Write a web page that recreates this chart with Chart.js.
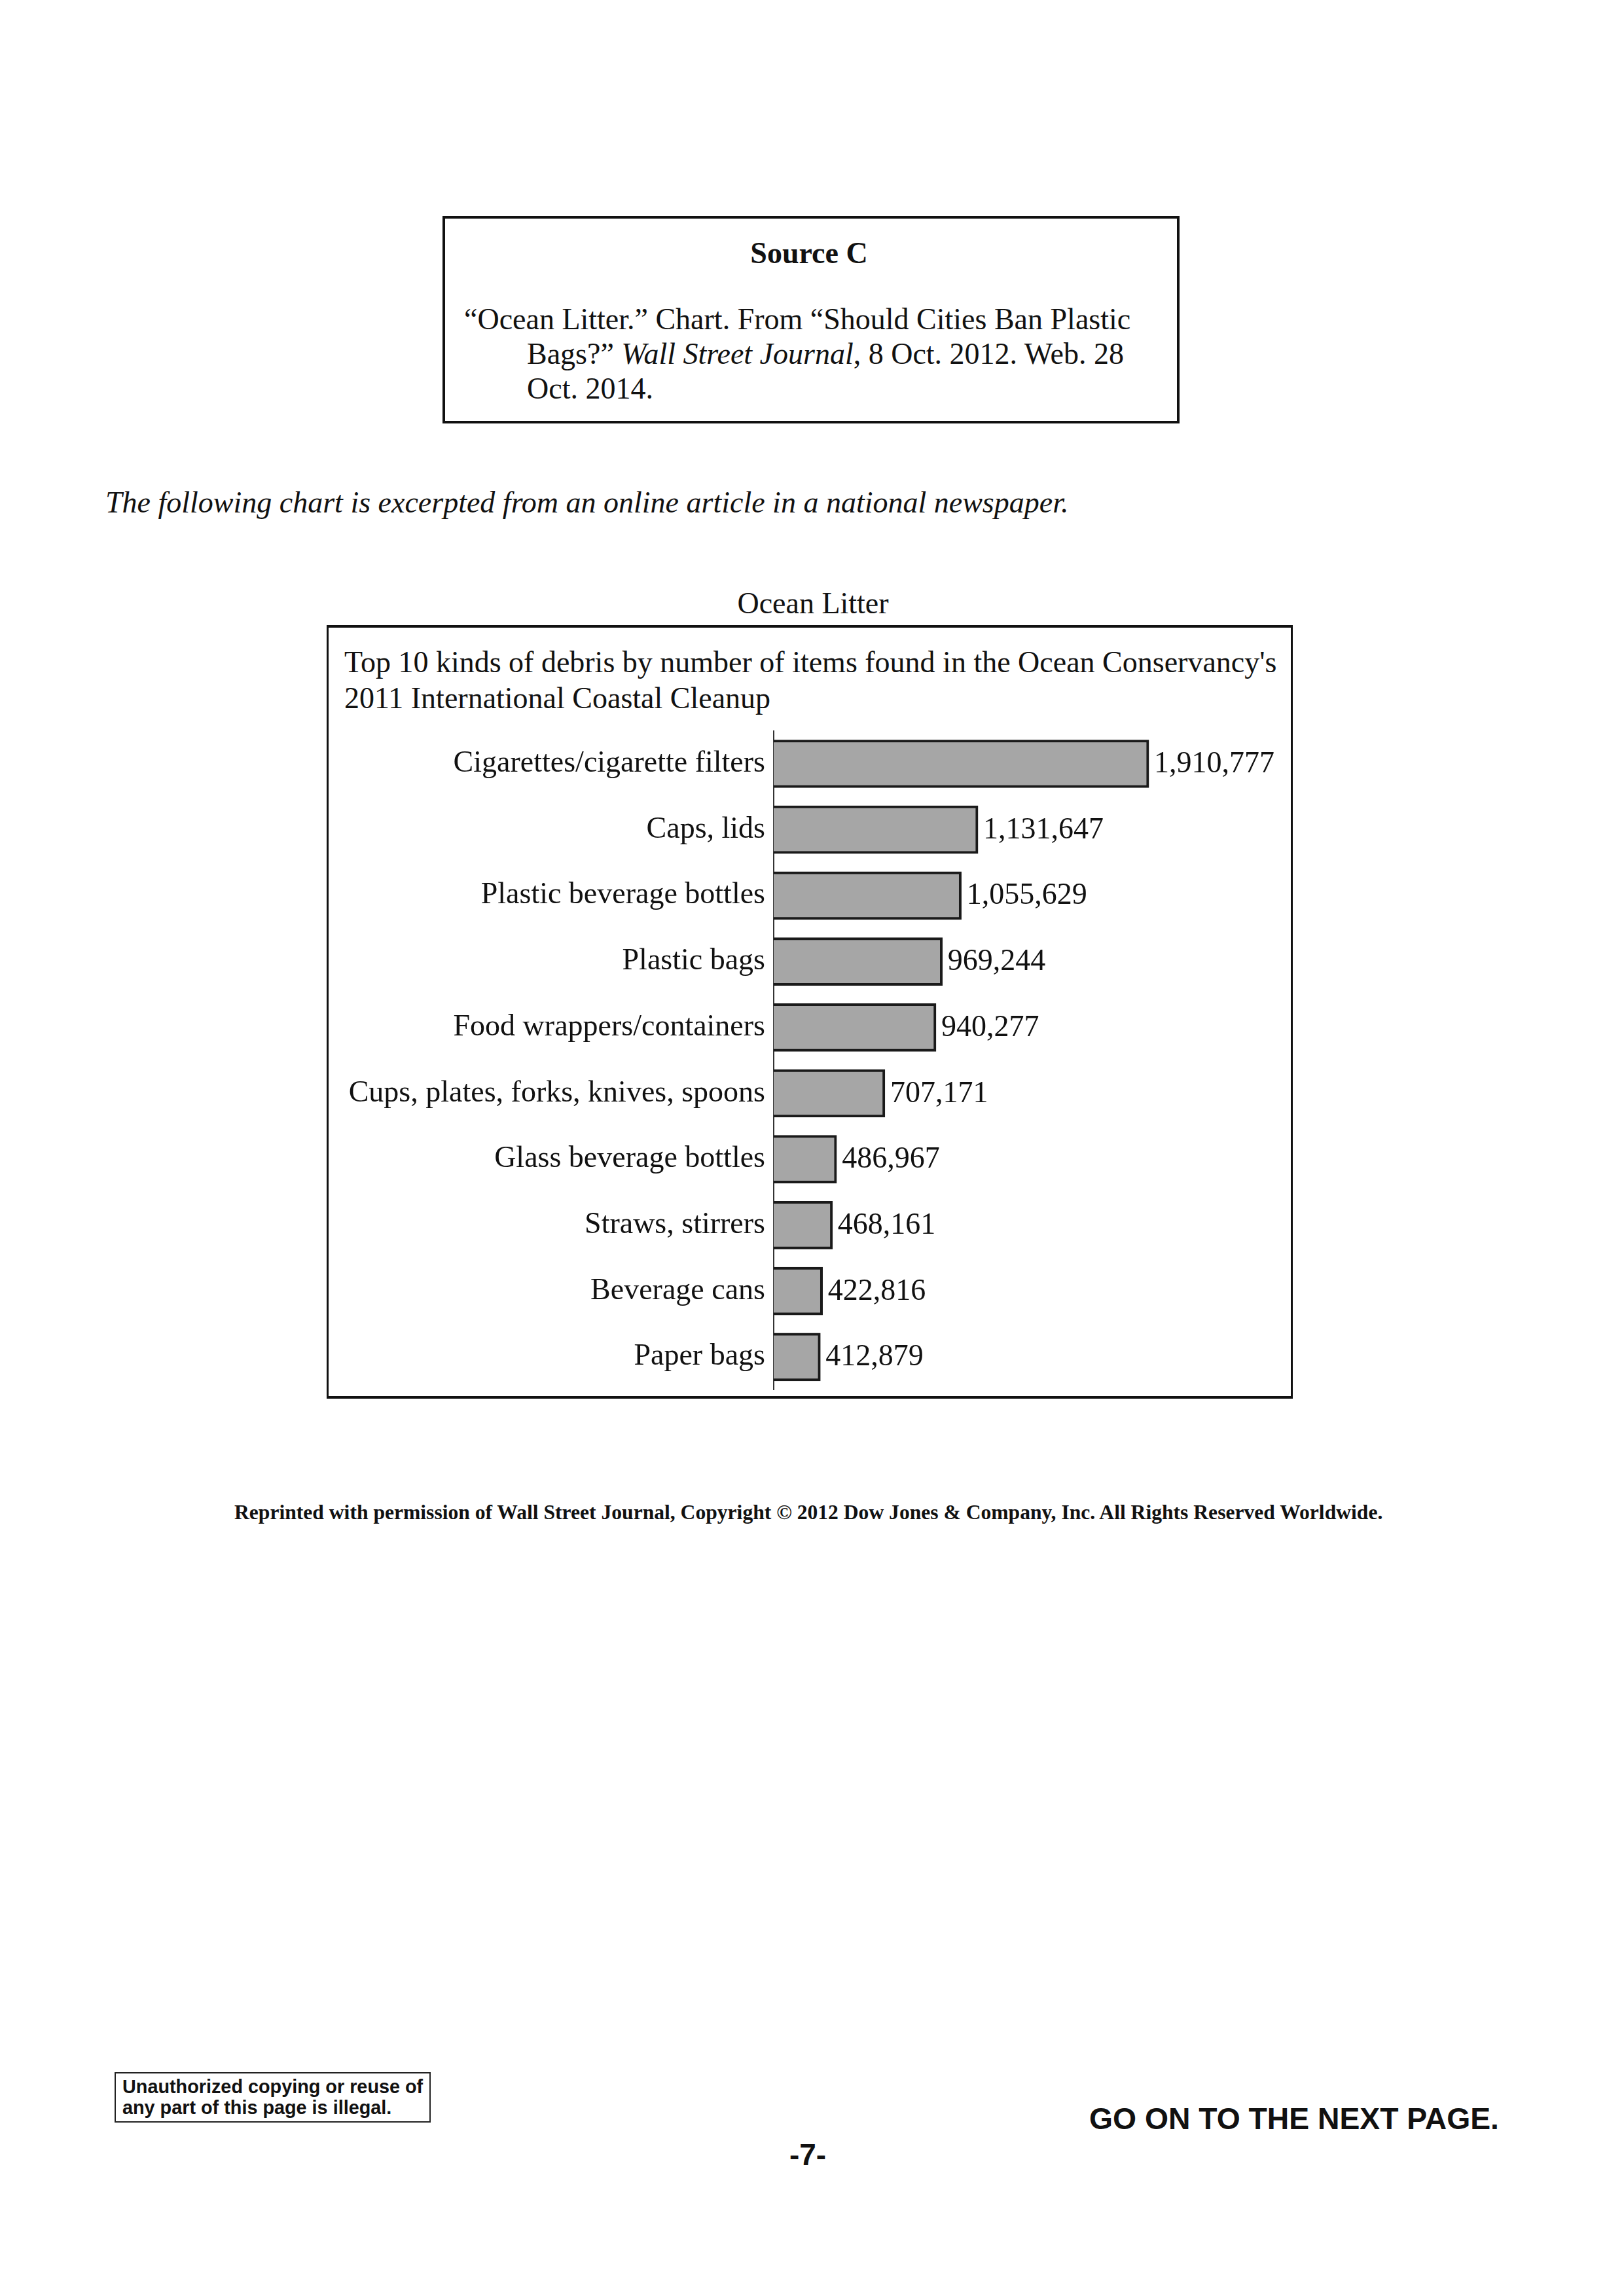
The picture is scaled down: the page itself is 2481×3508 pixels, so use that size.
<!DOCTYPE html>
<html>
<head>
<meta charset="utf-8">
<script src="https://cdn.jsdelivr.net/npm/chart.js@4.4.1/dist/chart.umd.min.js"></script>
<style>
  html, body { margin: 0; padding: 0; background: #fff; }
  body { width: 2481px; height: 3508px; position: relative; overflow: hidden; }
  .t { position: absolute; white-space: nowrap; color: #111; line-height: 1; }
  .serif { font-family: "Liberation Serif", "DejaVu Serif", serif; font-size: 46px; }
  .sans { font-family: "Liberation Sans", Arial, sans-serif; font-weight: bold; }
  .box { position: absolute; box-sizing: border-box; }
</style>
</head>
<body>
<!-- Source box -->
<div class="box" style="left:676px; top:330px; width:1126px; height:317px; border:4px solid #111;"></div>
<div class="t serif" style="left:1036px; width:400px; text-align:center; top:364px; font-weight:bold;">Source C</div>
<div class="t serif" style="left:709px; top:465px;">“Ocean Litter.” Chart. From “Should Cities Ban Plastic</div>
<div class="t serif" style="left:805px; top:518px;">Bags?” <i>Wall Street Journal</i>, 8 Oct. 2012. Web. 28</div>
<div class="t serif" style="left:805px; top:571px;">Oct. 2014.</div>

<div class="t serif" style="left:161px; top:745px; font-style:italic;">The following chart is excerpted from an online article in a national newspaper.</div>

<div class="t serif" style="left:1042px; width:400px; text-align:center; top:899px;">Ocean Litter</div>

<!-- Chart box -->
<div class="box" style="left:499px; top:955px; width:1476px; height:1182px; border:3px solid #111; border-top-width:4px; border-bottom-width:4px;"></div>
<div class="t serif" style="left:526px; top:989px;">Top 10 kinds of debris by number of items found in the Ocean Conservancy's</div>
<div class="t serif" style="left:526px; top:1044px;">2011 International Coastal Cleanup</div>
<canvas id="c" width="1470" height="1176" style="position:absolute; left:502px; top:958px;"></canvas>

<div class="t" style="left:358px; top:2295px; font-family:'Liberation Serif', serif; font-weight:bold; font-size:31.6px;">Reprinted with permission of Wall Street Journal, Copyright © 2012 Dow Jones &amp; Company, Inc. All Rights Reserved Worldwide.</div>

<!-- footer -->
<div class="box" style="left:175px; top:3166px; width:483px; height:77px; border:2px solid #222;"></div>
<div class="t sans" style="left:187px; top:3174px; font-size:28.8px;">Unauthorized copying or reuse of</div>
<div class="t sans" style="left:187px; top:3206px; font-size:28.8px;">any part of this page is illegal.</div>
<div class="t sans" style="left:1664px; top:3214px; font-size:46.3px;">GO ON TO THE NEXT PAGE.</div>
<div class="t sans" style="left:1134px; width:200px; text-align:center; top:3269px; font-size:46px;">-7-</div>

<script>
const categories = [
  "Cigarettes/cigarette filters",
  "Caps, lids",
  "Plastic beverage bottles",
  "Plastic bags",
  "Food wrappers/containers",
  "Cups, plates, forks, knives, spoons",
  "Glass beverage bottles",
  "Straws, stirrers",
  "Beverage cans",
  "Paper bags"
];
const itemCounts = [1910777, 1131647, 1055629, 969244, 940277, 707171, 486967, 468161, 422816, 412879];
const axisMin = 200000;
const axisMax = 2100000;

const serifFont = "Liberation Serif";

const valueLabels = {
  id: "valueLabels",
  afterDatasetsDraw(chart) {
    const ctx = chart.ctx;
    const meta = chart.getDatasetMeta(0);
    ctx.save();
    ctx.font = "46px '" + serifFont + "'";
    ctx.fillStyle = "#111";
    ctx.textAlign = "left";
    ctx.textBaseline = "middle";
    meta.data.forEach((bar, i) => {
      const v = chart.data.datasets[0].data[i];
      ctx.fillText(v.toLocaleString("en-US"), bar.x + 8, bar.y + 1);
    });
    ctx.restore();
  }
};

new Chart(document.getElementById("c"), {
  type: "bar",
  data: {
    labels: categories,
    datasets: [{
      data: itemCounts,
      backgroundColor: "#a6a6a6",
      borderColor: "#1a1a1a",
      borderWidth: 4,
      barThickness: 73,
      borderSkipped: false
    }]
  },
  options: {
    indexAxis: "y",
    responsive: false,
    animation: false,
    devicePixelRatio: 1,
    layout: { padding: { top: 158.65, bottom: 10.35, left: 0, right: 153.5 } },
    plugins: {
      legend: { display: false },
      tooltip: { enabled: false },
      title: { display: false }
    },
    scales: {
      x: { display: false, min: axisMin, max: axisMax },
      y: {
        afterFit: (s) => { s.width = 680; s.paddingTop = 0; s.paddingBottom = 0; },
        grid: { display: false, drawTicks: false, tickLength: 0 },
        border: { display: true, color: "#333", width: 2 },
        ticks: {
          padding: 13,
          autoSkip: false,
          color: "#111",
          font: { family: serifFont, size: 46 }
        }
      }
    }
  },
  plugins: [valueLabels]
});
</script>
</body>
</html>
